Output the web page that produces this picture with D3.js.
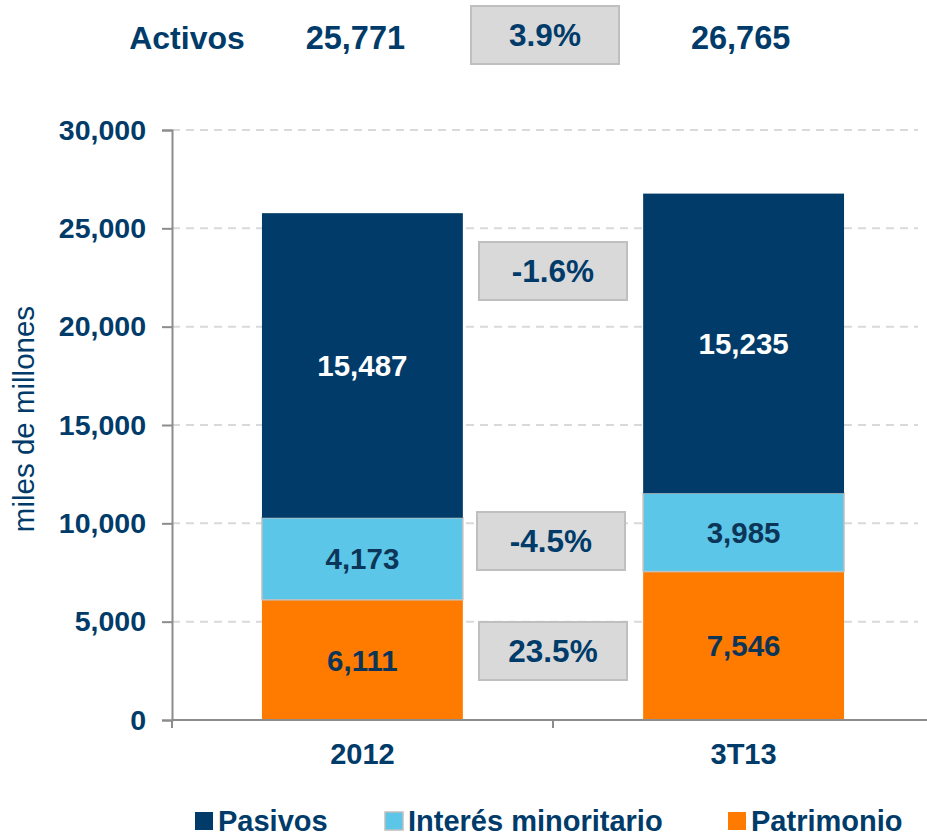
<!DOCTYPE html>
<html>
<head>
<meta charset="utf-8">
<script src="https://cdn.jsdelivr.net/npm/d3@7"></script>
<style>
  body { margin: 0; background: #fff; }
  svg { display: block; font-family: "Liberation Sans", Arial, sans-serif; }
</style>
</head>
<body>
<svg id="chart"></svg>
<script>
const periods = ['2012', '3T13']
const series = ['Patrimonio', 'Interés minoritario', 'Pasivos']
const patrimonio = [6111, 7546]
const interes = [4173, 3985]
const pasivos = [15487, 15235]
const activos = [25771, 26765]
const yTicks = [0, 5000, 10000, 15000, 20000, 25000, 30000]
const legendOrder = ['Pasivos', 'Interés minoritario', 'Patrimonio']

const navy = '#003b69'
const colors = { 'Pasivos': '#003b69', 'Interés minoritario': '#5bc6e8', 'Patrimonio': '#ff7b00' }
const labelColors = { 'Pasivos': '#ffffff', 'Interés minoritario': '#0d3558', 'Patrimonio': '#0d3558' }

const width = 927, height = 836
const margin = { top: 130, bottom: 116, left: 172, right: -7 }

const svg = d3.select('#chart').attr('width', width).attr('height', height)

const x = d3.scaleBand()
  .domain(periods)
  .range([margin.left, width - margin.right])
  .paddingInner(0.473)
  .paddingOuter(0.236)

const y = d3.scaleLinear()
  .domain([0, 30000])
  .range([height - margin.bottom, margin.top])

const rows = periods.map((p, i) => ({
  period: p,
  'Patrimonio': patrimonio[i],
  'Interés minoritario': interes[i],
  'Pasivos': pasivos[i]
}))
const stacked = d3.stack().keys(series)(rows)

// grid
svg.append('g')
  .selectAll('line')
  .data(yTicks.filter(d => d > 0))
  .join('line')
    .attr('x1', margin.left)
    .attr('x2', 918)
    .attr('y1', d => y(d))
    .attr('y2', d => y(d))
    .attr('stroke', '#d9d9d9')
    .attr('stroke-width', 2)
    .attr('stroke-dasharray', '8,6')

// bars
const layer = svg.append('g')
  .selectAll('g')
  .data(stacked)
  .join('g')
    .attr('fill', d => colors[d.key])

layer.selectAll('rect')
  .data(d => d.map(v => Object.assign(v, { key: d.key })))
  .join('rect')
    .attr('x', d => x(d.data.period))
    .attr('width', x.bandwidth())
    .attr('y', d => y(d[1]))
    .attr('height', d => y(d[0]) - y(d[1]))
    .attr('stroke', d => d.key === 'Interés minoritario' ? '#c0c0c0' : 'none')
    .attr('stroke-width', 1.5)

layer.selectAll('text')
  .data(d => d)
  .join('text')
    .attr('x', d => x(d.data.period) + x.bandwidth() / 2)
    .attr('y', d => (y(d[0]) + y(d[1])) / 2)
    .attr('dy', '0.36em')
    .attr('text-anchor', 'middle')
    .attr('font-size', 29.5)
    .attr('font-weight', 'bold')
    .attr('fill', d => labelColors[d.key])
    .text(d => d3.format(',')(d[1] - d[0]))

// y axis
const yAxis = svg.append('g')
  .attr('transform', `translate(${margin.left},0)`)
  .call(d3.axisLeft(y).tickValues(yTicks).tickFormat(d3.format(',')).tickSize(10).tickPadding(16))
yAxis.select('.domain').attr('stroke', '#8c8c8c').attr('stroke-width', 2)
yAxis.selectAll('.tick line').attr('stroke', '#8c8c8c').attr('stroke-width', 2)
yAxis.selectAll('.tick text')
  .attr('fill', navy)
  .attr('font-size', 28.5)
  .attr('font-weight', 'bold')
  .attr('font-family', '"Liberation Sans", Arial, sans-serif')

// x axis
const x0 = y(0)
const step = x.step()
const boundaries = [x.range()[0], x(periods[1]) - step * x.paddingInner() / 2, x.range()[1]]
svg.append('line')
  .attr('x1', margin.left).attr('x2', width)
  .attr('y1', x0).attr('y2', x0)
  .attr('stroke', '#8c8c8c').attr('stroke-width', 2)
svg.append('g')
  .selectAll('line')
  .data(boundaries)
  .join('line')
    .attr('x1', d => d).attr('x2', d => d)
    .attr('y1', x0).attr('y2', x0 + 8)
    .attr('stroke', '#8c8c8c').attr('stroke-width', 2)
svg.append('g')
  .selectAll('text')
  .data(periods)
  .join('text')
    .attr('x', d => x(d) + x.bandwidth() / 2)
    .attr('y', 764)
    .attr('text-anchor', 'middle')
    .attr('font-size', 29)
    .attr('font-weight', 'bold')
    .attr('fill', navy)
    .text(d => d)

// y title
svg.append('text')
  .attr('transform', `translate(34,419) rotate(-90)`)
  .attr('text-anchor', 'middle')
  .attr('font-size', 29.5)
  .attr('fill', navy)
  .text('miles de millones')

// change boxes
const pct = (a, b) => d3.format('.1f')((b / a - 1) * 100).replace('\u2212', '-') + '%'
const midX = boundaries[1]
const boxes = [
  { label: pct(pasivos[0], pasivos[1]), cx: midX, cy: 271 },
  { label: pct(interes[0], interes[1]), cx: midX - 2, cy: 541 },
  { label: pct(patrimonio[0], patrimonio[1]), cx: midX, cy: 651 },
  { label: pct(activos[0], activos[1]), cx: midX - 8, cy: 35 }
]
const bw = 148, bh = 58
const bg = svg.append('g').selectAll('g').data(boxes).join('g')
bg.append('rect')
  .attr('x', d => d.cx - bw / 2)
  .attr('y', d => d.cy - bh / 2)
  .attr('width', bw).attr('height', bh)
  .attr('fill', '#d9d9d9')
  .attr('stroke', '#bfbfbf')
  .attr('stroke-width', 2)
bg.append('text')
  .attr('x', d => d.cx)
  .attr('y', d => d.cy)
  .attr('dy', '0.36em')
  .attr('text-anchor', 'middle')
  .attr('font-size', 31.5)
  .attr('font-weight', 'bold')
  .attr('fill', navy)
  .text(d => d.label)

// header
svg.append('text')
  .attr('x', 187).attr('y', 37).attr('dy', '0.36em')
  .attr('text-anchor', 'middle')
  .attr('font-size', 32).attr('font-weight', 'bold').attr('fill', navy)
  .text('Activos')
svg.append('g')
  .selectAll('text')
  .data(activos)
  .join('text')
    .attr('x', (d, i) => x(periods[i]) + x.bandwidth() / 2 - (i === 0 ? 7 : 3))
    .attr('y', 37).attr('dy', '0.36em')
    .attr('text-anchor', 'middle')
    .attr('font-size', 32.5).attr('font-weight', 'bold').attr('fill', navy)
    .text(d => d3.format(',')(d))

// legend
const legendX = [195, 385, 728]
const lg = svg.append('g').selectAll('g').data(legendOrder).join('g')
  .attr('transform', (d, i) => `translate(${legendX[i]},812)`)
lg.append('rect')
  .attr('width', 18).attr('height', 18)
  .attr('fill', d => colors[d])
  .attr('stroke', d => d === 'Interés minoritario' ? '#bfbfbf' : 'none')
  .attr('stroke-width', 1.5)
lg.append('text')
  .attr('x', 23).attr('y', 19)
  .attr('font-size', 29).attr('font-weight', 'bold').attr('fill', navy)
  .text(d => d)
</script>
</body>
</html>
